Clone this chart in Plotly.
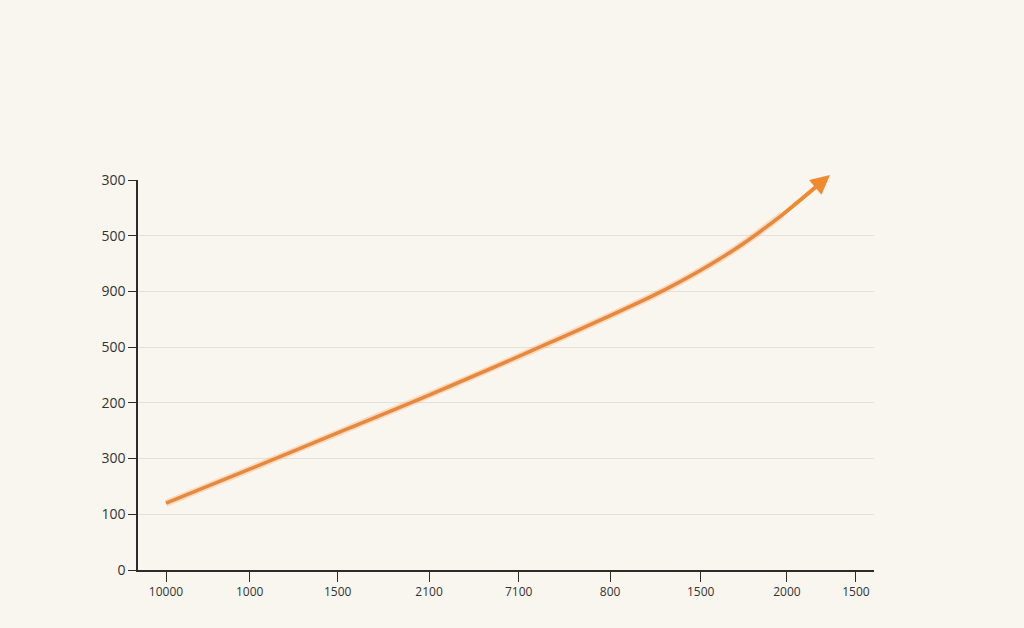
import plotly.graph_objects as go

# Axis tick labels (as printed in the reference)
y_tick_labels = ["0", "100", "300", "200", "500", "900", "500", "300"]
y_tick_vals = [0, 1, 2, 3, 4, 5, 6, 7]
x_tick_labels = ["10000", "1000", "1500", "2100", "7100", "800", "1500", "2000", "1500"]
x_tick_vals = [0, 0.97, 1.99, 3.05, 4.09, 5.15, 6.20, 7.20, 8.0]

# Curve values (x in tick units, y in gridline units)
curve_x = [0.0, 0.97, 2.13, 3.05, 4.45, 5.81, 6.57, 7.15, 7.70]
curve_y = [1.20, 1.81, 2.55, 3.14, 4.08, 5.05, 5.73, 6.38, 7.09]

bg = "#f9f6ef"
line_col = "#e6883e"

fig = go.Figure()
# soft halo
fig.add_trace(go.Scatter(x=curve_x[:-1], y=curve_y[:-1], mode="lines",
                         line=dict(color="rgba(245,170,100,0.35)", width=7, shape="spline"),
                         hoverinfo="skip", showlegend=False))
fig.add_trace(go.Scatter(x=curve_x, y=curve_y, mode="lines",
                         line=dict(color=line_col, width=3.5, shape="spline"),
                         showlegend=False))

fig.add_annotation(x=curve_x[-1], y=curve_y[-1], ax=curve_x[-2], ay=curve_y[-2],
                   xref="x", yref="y", axref="x", ayref="y",
                   showarrow=True, arrowhead=2, arrowsize=1.1, arrowwidth=3.5,
                   arrowcolor="#f08a2e", text="", font=dict(size=1), borderpad=0)

fig.update_layout(
    width=1024, height=628,
    paper_bgcolor=bg, plot_bgcolor=bg,
    margin=dict(l=138, r=150, t=180, b=58),
    font=dict(family="Open Sans, Liberation Sans, sans-serif", color="#2b2b2b"),
    xaxis=dict(range=[-0.325, 8.21], tickvals=x_tick_vals, ticktext=x_tick_labels,
               showgrid=False, zeroline=False, showline=True, linecolor="#2b2b2b",
               linewidth=1.5, ticks="outside", ticklen=10, tickcolor="#2b2b2b",
               tickfont=dict(size=12, color="#333333"), fixedrange=True),
    yaxis=dict(range=[0, 7], tickvals=y_tick_vals, ticktext=y_tick_labels,
               showgrid=True, gridcolor="#e4e1da", gridwidth=1, zeroline=False,
               showline=True, linecolor="#2b2b2b", linewidth=1.5,
               ticks="outside", ticklen=8, tickcolor="#2b2b2b",
               tickfont=dict(size=14, color="#333333"), fixedrange=True),
)

fig.write_html("out.html", config={"displayModeBar": False})

# remove default page margin so the figure fills the window
with open("out.html", "r", encoding="utf-8") as f:
    html = f.read()
html = html.replace("<body>", '<body style="margin:0;background:%s">' % bg, 1)
with open("out.html", "w", encoding="utf-8") as f:
    f.write(html)
